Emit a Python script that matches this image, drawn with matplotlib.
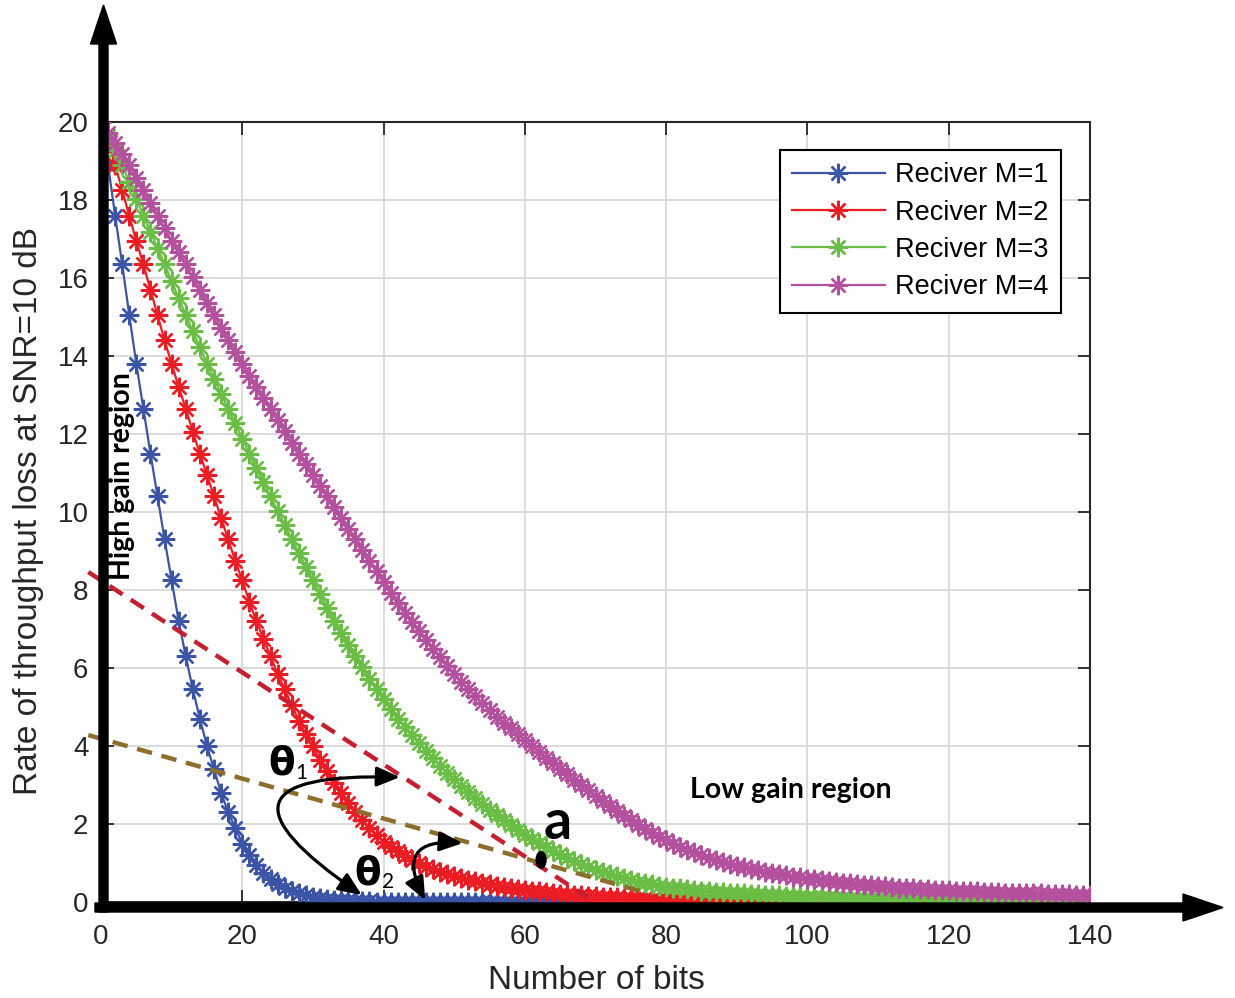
import numpy as np
import matplotlib
matplotlib.use('Agg')
import matplotlib.pyplot as plt
from matplotlib.patches import FancyArrow, FancyArrowPatch, Ellipse

# ---- data (x = number of bits, 0..140) ----
bits = np.arange(0, 141)

m1 = [20.0, 18.9, 17.6, 16.35, 15.05, 13.8, 12.65, 11.5, 10.4, 9.3,
      8.25, 7.2, 6.3, 5.45, 4.7, 4.0, 3.4, 2.8, 2.3, 1.9,
      1.5, 1.2, 0.95, 0.75, 0.58, 0.45, 0.35, 0.28, 0.22, 0.17,
      0.13, 0.10, 0.08, 0.06, 0.05, 0.04, 0.03, 0.02, 0.02, 0.01,
      0.01] + [0.0] * 100

m2 = [20.0, 19.45, 18.9, 18.25, 17.6, 16.95, 16.35, 15.7, 15.05, 14.4,
      13.8, 13.2, 12.65, 12.05, 11.5, 10.95, 10.4, 9.85, 9.3, 8.75,
      8.25, 7.7, 7.2, 6.75, 6.3, 5.85, 5.45, 5.05, 4.65, 4.3,
      4.0, 3.65, 3.35, 3.05, 2.8, 2.55, 2.3, 2.1, 1.9, 1.72,
      1.55, 1.42, 1.3, 1.18, 1.08, 0.99, 0.91, 0.84, 0.77, 0.71,
      0.66, 0.61, 0.57, 0.53, 0.49, 0.45, 0.42, 0.39, 0.36, 0.33,
      0.31, 0.29, 0.27, 0.25, 0.23, 0.21, 0.20, 0.18, 0.17, 0.16,
      0.15, 0.14, 0.13, 0.12, 0.11, 0.10, 0.10, 0.09, 0.08, 0.08,
      0.07, 0.07, 0.06, 0.06, 0.05, 0.05, 0.05, 0.04, 0.04, 0.04,
      0.03, 0.03, 0.03, 0.03, 0.02, 0.02, 0.02, 0.02, 0.02, 0.01,
      0.01] + [0.0] * 40

m3 = [20.0, 19.63, 19.27, 18.9, 18.47, 18.03, 17.6, 17.18, 16.77, 16.35,
      15.92, 15.48, 15.05, 14.63, 14.22, 13.8, 13.42, 13.03, 12.65, 12.27,
      11.88, 11.5, 11.13, 10.77, 10.4, 10.03, 9.67, 9.3, 8.95, 8.6,
      8.25, 7.9, 7.55, 7.2, 6.9, 6.6, 6.3, 6.02, 5.73, 5.45,
      5.2, 4.95, 4.7, 4.48, 4.27, 4.07, 3.87, 3.68, 3.5, 3.32,
      3.15, 2.98, 2.82, 2.66, 2.51, 2.37, 2.23, 2.1, 1.97, 1.85,
      1.73, 1.62, 1.51, 1.41, 1.31, 1.22, 1.13, 1.05, 0.97, 0.9,
      0.83, 0.77, 0.71, 0.66, 0.61, 0.56, 0.52, 0.48, 0.45, 0.42,
      0.39, 0.37, 0.35, 0.33, 0.31, 0.29, 0.28, 0.26, 0.25, 0.24,
      0.23, 0.22, 0.21, 0.2, 0.19, 0.18, 0.17, 0.16, 0.16, 0.15,
      0.14, 0.14, 0.13, 0.13, 0.12, 0.12, 0.11, 0.11, 0.1, 0.1,
      0.09, 0.09, 0.08, 0.08, 0.08, 0.07, 0.07, 0.07, 0.06, 0.06,
      0.06, 0.05, 0.05, 0.05, 0.05, 0.04, 0.04, 0.04, 0.04, 0.03,
      0.03, 0.03, 0.03, 0.03, 0.02, 0.02, 0.02, 0.02, 0.02, 0.02,
      0.02]

m4 = [20.0, 19.72, 19.45, 19.17, 18.9, 18.57, 18.25, 17.92, 17.6, 17.27,
      16.95, 16.67, 16.35, 16.02, 15.7, 15.37, 15.05, 14.72, 14.4, 14.1,
      13.8, 13.5, 13.2, 12.93, 12.65, 12.35, 12.07, 11.78, 11.5, 11.22,
      10.95, 10.67, 10.4, 10.12, 9.85, 9.57, 9.3, 9.02, 8.75, 8.5,
      8.2, 7.93, 7.67, 7.42, 7.18, 6.95, 6.72, 6.49, 6.27, 6.06,
      5.85, 5.65, 5.45, 5.27, 5.09, 4.92, 4.75, 4.6, 4.45, 4.3,
      4.15, 4.0, 3.85, 3.7, 3.56, 3.42, 3.28, 3.14, 3.0, 2.86,
      2.72, 2.58, 2.45, 2.33, 2.21, 2.09, 1.98, 1.87, 1.77, 1.67,
      1.58, 1.5, 1.42, 1.34, 1.27, 1.2, 1.14, 1.08, 1.03, 0.98,
      0.93, 0.89, 0.85, 0.81, 0.77, 0.74, 0.71, 0.68, 0.65, 0.63,
      0.6, 0.58, 0.56, 0.54, 0.52, 0.5, 0.48, 0.46, 0.44, 0.43,
      0.41, 0.4, 0.38, 0.37, 0.36, 0.35, 0.34, 0.33, 0.32, 0.31,
      0.3, 0.29, 0.28, 0.28, 0.27, 0.26, 0.26, 0.25, 0.24, 0.24,
      0.23, 0.23, 0.22, 0.22, 0.21, 0.21, 0.2, 0.2, 0.19, 0.19,
      0.18]

labels = ['Reciver M=1', 'Reciver M=2', 'Reciver M=3', 'Reciver M=4']
colors = ['#3b54a5', '#ec1c24', '#6abd45', '#b4519f']

# dashed guide lines (slopes of the two regions)
red_guide_x = [-1.8, 68.8]
red_guide_y = [8.46, 0.13]
brown_guide_x = [-1.8, 77.3]
brown_guide_y = [4.28, 0.23]
point_a = (62.3, 1.08)

plt.rcParams['font.family'] = ['Liberation Sans', 'DejaVu Sans']

fig = plt.figure(figsize=(12.35, 9.98), dpi=100)
ax = fig.add_axes([101 / 1235, 96 / 998, 989 / 1235, 780 / 998])

for y, c, lab in zip([m1, m2, m3, m4], colors, labels):
    ax.plot(bits, y, color=c, lw=1.6, marker=(8, 2, 0), ms=14, mew=1.7,
            label=lab, zorder=3)

ax.set_xlim(0, 140)
ax.set_ylim(0, 20)
ax.set_xticks(np.arange(0, 141, 20))
ax.set_yticks(np.arange(0, 21, 2))
ax.grid(True, color='#d9d9d9', lw=1.3)
ax.set_axisbelow(True)
ax.tick_params(direction='in', length=9, width=1.3, top=True, right=True,
               labelsize=20, colors='#262626')
ax.tick_params(axis='x', pad=16)
ax.tick_params(axis='y', pad=9)
for s in ax.spines.values():
    s.set_color('#262626')
    s.set_linewidth(1.5)

ax.set_xlabel('Number of bits', fontsize=24, color='#262626')
ax.xaxis.set_label_coords(0.5005, -0.081)
ax.set_ylabel('Rate of throughput loss at SNR=10 dB', fontsize=24, color='#262626')
ax.yaxis.set_label_coords(-0.058, 0.501)

leg = ax.legend(loc='upper right', bbox_to_anchor=(0.9707, 0.9641),
                borderaxespad=0, fontsize=19.5, handlelength=3.4,
                handletextpad=0.4, labelspacing=0.42, borderpad=0.45,
                fancybox=False, edgecolor='black', framealpha=1, numpoints=1)
leg.get_frame().set_linewidth(1.5)

# guide lines and annotations
ax.plot(red_guide_x, red_guide_y, color='#c42030', lw=3.2, ls=(0, (3.5, 2.2)),
        clip_on=False, zorder=4)
ax.plot(brown_guide_x, brown_guide_y, color='#8c6d2b', lw=3.2, ls=(0, (3.5, 2.2)),
        clip_on=False, zorder=4)
ax.add_patch(Ellipse(point_a, width=1.4, height=0.42, color='black', zorder=6))

arr_kw = dict(arrowstyle='<|-|>,head_length=0.7,head_width=0.3', mutation_scale=20,
              color='black', lw=2.3, shrinkA=0, shrinkB=0, zorder=6, clip_on=False)
ax.add_patch(FancyArrowPatch((36.9, 0.18), (42.3, 3.2),
                             connectionstyle='arc3,rad=-1.7', **arr_kw))
ax.add_patch(FancyArrowPatch((45.9, 0.05), (51.2, 1.51),
                             connectionstyle='arc3,rad=-0.9', **arr_kw))

bold_font = ['Lato', 'DejaVu Sans']
ax.text(25.6, 3.56, 'θ', fontsize=28, fontweight='bold', family=['DejaVu Sans'],
        ha='center', va='center', zorder=7)
ax.text(28.3, 3.3, '1', fontsize=15, family=bold_font, ha='center', va='center', zorder=7)
ax.text(37.8, 0.72, 'θ', fontsize=28, fontweight='bold', family=['DejaVu Sans'],
        ha='center', va='center', zorder=7)
ax.text(40.6, 0.52, '2', fontsize=15, family=bold_font, ha='center', va='center', zorder=7)
ax.text(64.7, 2.03, 'a', fontsize=40, fontweight='bold', family=bold_font,
        ha='center', va='center', zorder=7)
ax.text(97.7, 2.87, 'Low gain region', fontsize=20.5, fontweight='bold',
        family=bold_font, ha='center', va='center', zorder=7)
ax.text(2.97, 10.92, 'High gain region', fontsize=20.5, fontweight='bold',
        family=bold_font, rotation=90, ha='center', va='center', zorder=7)

# thick black axis arrows (figure inches, 100 px per inch)
fig.add_artist(FancyArrow(1.035, 0.86, 0, 9.07, width=0.09, head_width=0.26,
                          head_length=0.39, length_includes_head=True,
                          color='black', transform=fig.dpi_scale_trans))
fig.add_artist(FancyArrow(0.95, 0.905, 11.28, 0, width=0.09, head_width=0.27,
                          head_length=0.40, length_includes_head=True,
                          color='black', transform=fig.dpi_scale_trans))

fig.savefig('out.png', dpi=100)
